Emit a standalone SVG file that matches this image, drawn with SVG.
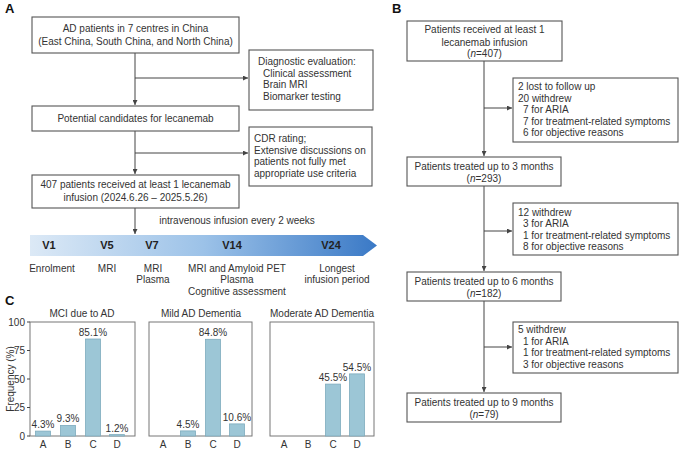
<svg xmlns="http://www.w3.org/2000/svg" width="680" height="450" viewBox="0 0 680 450">
<style>
text{font-family:"Liberation Sans",Arial,sans-serif;fill:#333;font-size:10px}
.lbl{font-weight:bold;font-size:13px;fill:#111}
.box{fill:#fff;stroke:#555;stroke-width:1.1}
.c{text-anchor:middle}
.r{text-anchor:end}
.ln{stroke:#444;stroke-width:1;fill:none}
.v{font-weight:bold;font-size:11px;fill:#222;text-anchor:middle}
.bar{fill:#9cc6d6;stroke:#7eabbd;stroke-width:0.8}
.frame{fill:none;stroke:#777;stroke-width:1}
</style>
<defs>
<marker id="ah" viewBox="0 0 6 6" refX="6" refY="3" markerWidth="5" markerHeight="5" orient="auto">
<path d="M0,0 L6,3 L0,6 z" fill="#444"/>
</marker>
<linearGradient id="tg" x1="0" y1="0" x2="1" y2="0">
<stop offset="0" stop-color="#dce9f6"/>
<stop offset="0.5" stop-color="#9cc2e8"/>
<stop offset="1" stop-color="#3a79c6"/>
</linearGradient>
</defs>

<text class="lbl" x="5" y="13">A</text>
<text class="lbl" x="392" y="13">B</text>
<text class="lbl" x="5" y="305">C</text>

<g id="connectors">
<line class="ln" x1="135" y1="53" x2="135" y2="105" marker-end="url(#ah)"/>
<line class="ln" x1="135" y1="78" x2="248" y2="78" marker-end="url(#ah)"/>
<line class="ln" x1="135" y1="131" x2="135" y2="174" marker-end="url(#ah)"/>
<line class="ln" x1="135" y1="153" x2="248" y2="153" marker-end="url(#ah)"/>
<line class="ln" x1="135" y1="208" x2="135" y2="234" marker-end="url(#ah)"/>
<line class="ln" x1="484" y1="61" x2="484" y2="156" marker-end="url(#ah)"/>
<line class="ln" x1="484" y1="108" x2="512" y2="108" marker-end="url(#ah)"/>
<line class="ln" x1="484" y1="186" x2="484" y2="271" marker-end="url(#ah)"/>
<line class="ln" x1="484" y1="231" x2="512" y2="231" marker-end="url(#ah)"/>
<line class="ln" x1="484" y1="301" x2="484" y2="392" marker-end="url(#ah)"/>
<line class="ln" x1="484" y1="347" x2="512" y2="347" marker-end="url(#ah)"/>
</g>

<g id="a-centres">
<rect class="box" x="32" y="17" width="207" height="36"/>
<text class="c" x="135.5" y="32">AD patients in 7 centres in China</text>
<text class="c" x="135.5" y="45">(East China, South China, and North China)</text>
</g>
<g id="a-diag">
<rect class="box" x="249" y="50" width="124" height="60"/>
<text x="258" y="65">Diagnostic evaluation:</text>
<text x="263" y="76.5">Clinical assessment</text>
<text x="263" y="88">Brain MRI</text>
<text x="263" y="99.5">Biomarker testing</text>
</g>
<g id="a-candidates">
<rect class="box" x="32" y="106" width="207" height="25"/>
<text class="c" x="135.5" y="122">Potential candidates for lecanemab</text>
</g>
<g id="a-cdr">
<rect class="box" x="249" y="127" width="123" height="59"/>
<text x="254" y="142">CDR rating;</text>
<text x="254" y="153.5">Extensive discussions on</text>
<text x="254" y="165">patients not fully met</text>
<text x="254" y="176.5">appropriate use criteria</text>
</g>
<g id="a-407">
<rect class="box" x="32" y="175" width="207" height="33"/>
<text class="c" x="135.5" y="188">407 patients received at least 1 lecanemab</text>
<text class="c" x="135.5" y="201">infusion (2024.6.26 – 2025.5.26)</text>
</g>

<g id="timeline">
<text class="c" x="237" y="224">intravenous infusion every 2 weeks</text>
<path d="M30,235 L363,235 L377,245.5 L363,256 L30,256 Z" fill="url(#tg)"/>
<text class="v" x="49" y="249">V1</text>
<text class="v" x="107" y="249">V5</text>
<text class="v" x="152" y="249">V7</text>
<text class="v" x="232" y="249">V14</text>
<text class="v" x="331" y="249">V24</text>
<text class="c" x="52" y="272">Enrolment</text>
<text class="c" x="107" y="272">MRI</text>
<text class="c" x="153" y="272">MRI</text>
<text class="c" x="153" y="283">Plasma</text>
<text class="c" x="237" y="272">MRI and Amyloid PET</text>
<text class="c" x="237" y="283">Plasma</text>
<text class="c" x="237" y="295">Cognitive assessment</text>
<text class="c" x="337" y="272">Longest</text>
<text class="c" x="337" y="283">infusion period</text>
</g>

<g id="chart-mci">
<text class="c" x="82" y="317">MCI due to AD</text>
<rect class="frame" x="30" y="322" width="105" height="114"/>
<path class="ln" stroke="#777" d="M27,322H30M27,350.5H30M27,379H30M27,407.5H30M27,436H30"/>
<text class="r" x="25" y="325.5">100</text>
<text class="r" x="25" y="354">75</text>
<text class="r" x="25" y="382.5">50</text>
<text class="r" x="25" y="411">25</text>
<text class="r" x="25" y="439.5">0</text>
<text class="c" transform="translate(14,379) rotate(-90)">Frequency (%)</text>
<rect class="bar" x="35.5" y="431.1" width="15" height="4.9"/>
<rect class="bar" x="60.5" y="425.4" width="15" height="10.6"/>
<rect class="bar" x="85.5" y="339" width="15" height="97"/>
<rect class="bar" x="109.5" y="434.6" width="15" height="1.4"/>
<text class="c" x="43" y="428">4.3%</text>
<text class="c" x="68" y="422">9.3%</text>
<text class="c" x="93" y="336">85.1%</text>
<text class="c" x="117" y="432">1.2%</text>
<text class="c" x="43" y="448">A</text>
<text class="c" x="68" y="448">B</text>
<text class="c" x="93" y="448">C</text>
<text class="c" x="117" y="448">D</text>
</g>

<g id="chart-mild">
<text class="c" x="201" y="317">Mild AD Dementia</text>
<rect class="frame" x="149" y="322" width="103" height="114"/>
<rect class="bar" x="180.5" y="430.9" width="15" height="5.1"/>
<rect class="bar" x="205.5" y="339.3" width="15" height="96.7"/>
<rect class="bar" x="229.5" y="423.9" width="15" height="12.1"/>
<text class="c" x="188" y="428">4.5%</text>
<text class="c" x="213" y="336">84.8%</text>
<text class="c" x="237" y="421">10.6%</text>
<text class="c" x="163" y="448">A</text>
<text class="c" x="188" y="448">B</text>
<text class="c" x="213" y="448">C</text>
<text class="c" x="237" y="448">D</text>
</g>

<g id="chart-moderate">
<text class="c" x="322" y="317">Moderate AD Dementia</text>
<rect class="frame" x="270" y="322" width="104" height="114"/>
<rect class="bar" x="325.5" y="384.1" width="15" height="51.9"/>
<rect class="bar" x="349.5" y="373.9" width="15" height="62.1"/>
<text class="c" x="333" y="381">45.5%</text>
<text class="c" x="357" y="371">54.5%</text>
<text class="c" x="284" y="448">A</text>
<text class="c" x="308" y="448">B</text>
<text class="c" x="333" y="448">C</text>
<text class="c" x="357" y="448">D</text>
</g>

<g id="b-407">
<rect class="box" x="407" y="21" width="155" height="40"/>
<text class="c" x="484.5" y="33">Patients received at least 1</text>
<text class="c" x="484.5" y="45.5">lecanemab infusion</text>
<text class="c" x="484.5" y="57">(<tspan font-style="italic">n</tspan>=407)</text>
</g>
<g id="b-excl1">
<rect class="box" x="513" y="78" width="165" height="64"/>
<text x="518" y="90">2 lost to follow up</text>
<text x="518" y="101.5">20 withdrew</text>
<text x="523" y="113">7 for ARIA</text>
<text x="523" y="124.5">7 for treatment-related symptoms</text>
<text x="523" y="136">6 for objective reasons</text>
</g>
<g id="b-293">
<rect class="box" x="407" y="157" width="154" height="29"/>
<text class="c" x="484" y="169.5">Patients treated up to 3 months</text>
<text class="c" x="484" y="181.5">(<tspan font-style="italic">n</tspan>=293)</text>
</g>
<g id="b-excl2">
<rect class="box" x="513" y="203" width="165" height="52"/>
<text x="518" y="215.5">12 withdrew</text>
<text x="523" y="227">3 for ARIA</text>
<text x="523" y="238.5">1 for treatment-related symptoms</text>
<text x="523" y="250">8 for objective reasons</text>
</g>
<g id="b-182">
<rect class="box" x="407" y="272" width="154" height="29"/>
<text class="c" x="484" y="284.5">Patients treated up to 6 months</text>
<text class="c" x="484" y="296.5">(<tspan font-style="italic">n</tspan>=182)</text>
</g>
<g id="b-excl3">
<rect class="box" x="513" y="322" width="165" height="51"/>
<text x="518" y="333">5 withdrew</text>
<text x="523" y="344.5">1 for ARIA</text>
<text x="523" y="356">1 for treatment-related symptoms</text>
<text x="523" y="367.5">3 for objective reasons</text>
</g>
<g id="b-79">
<rect class="box" x="407" y="393" width="154" height="29"/>
<text class="c" x="484" y="405.5">Patients treated up to 9 months</text>
<text class="c" x="484" y="417.5">(<tspan font-style="italic">n</tspan>=79)</text>
</g>
</svg>
